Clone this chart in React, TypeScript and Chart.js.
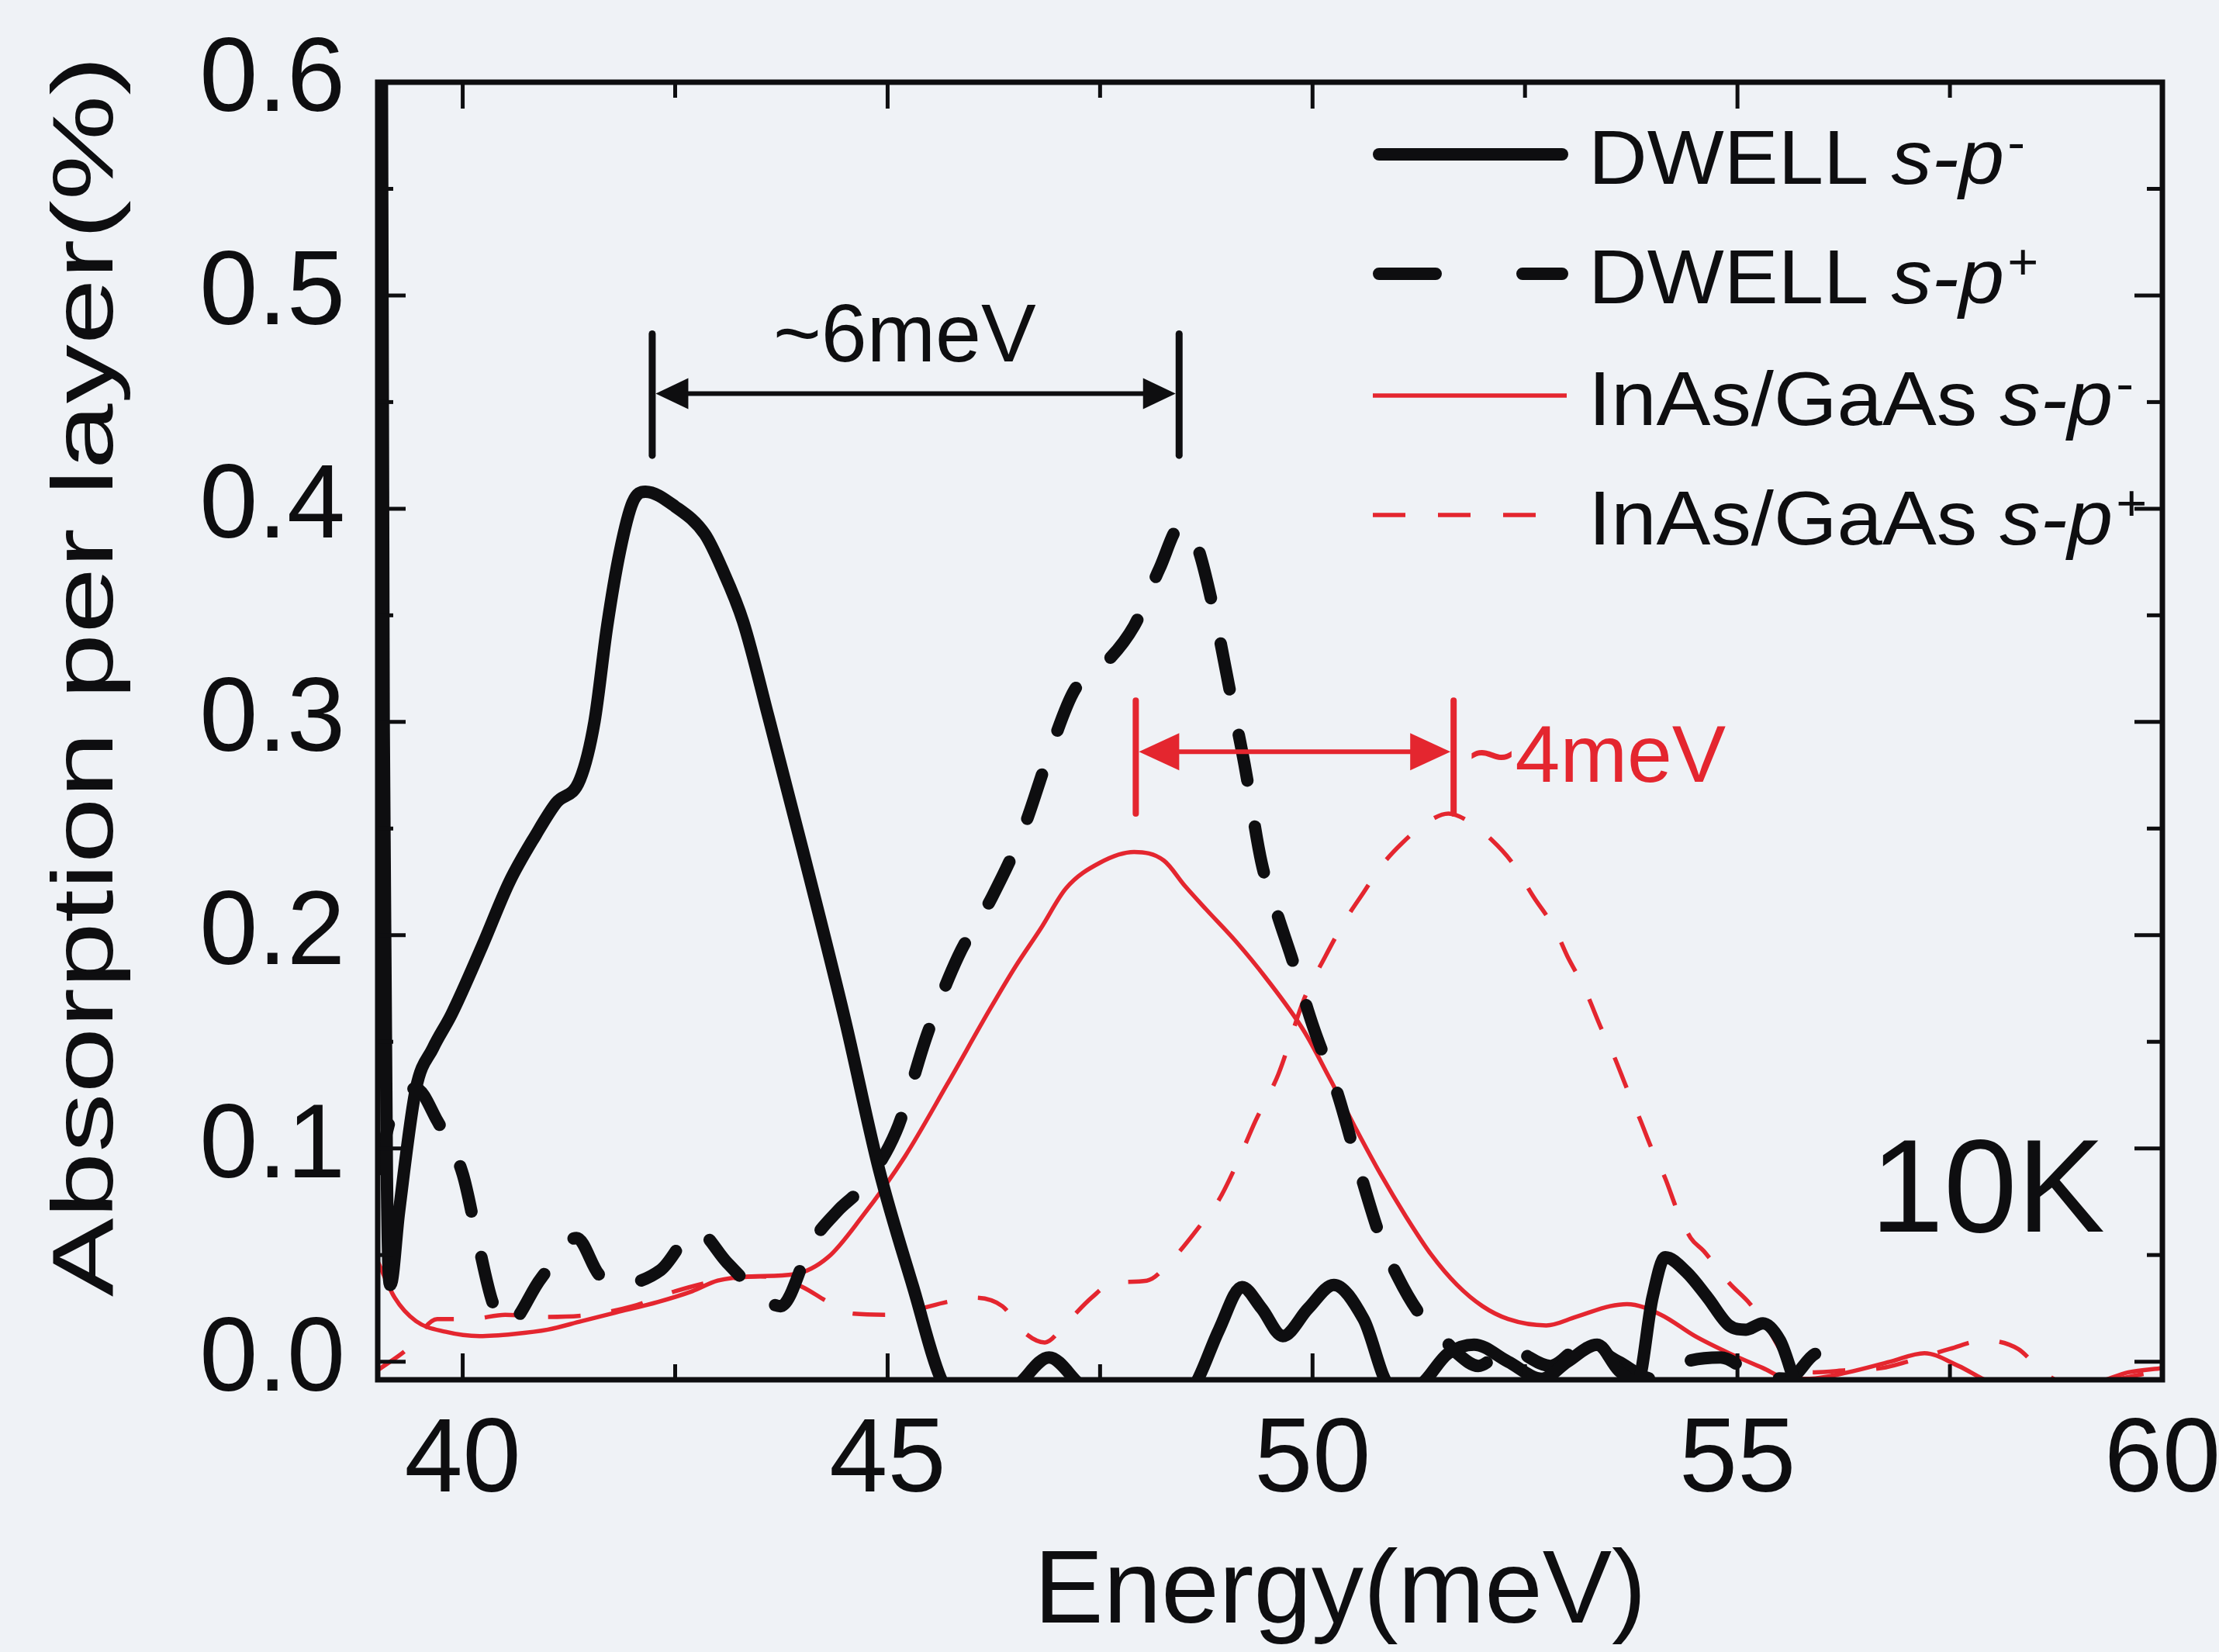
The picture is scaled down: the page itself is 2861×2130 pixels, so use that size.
import React, { useEffect, useRef } from 'react';
import { Chart, registerables } from 'chart.js';

Chart.register(...registerables);

// ---------------- data ----------------
const dwellMinusX = [39.04, 39.07, 39.11, 39.15, 39.25, 39.45, 39.65, 39.87, 40.23, 40.55, 40.86, 41.1, 41.38, 41.55, 41.7, 41.85, 42.0, 42.15, 42.5, 42.85, 43.05, 43.3, 43.6, 44.0, 44.5, 44.9, 45.3, 45.65, 46.0, 46.5, 46.9, 47.3, 47.8, 48.3, 48.6, 48.9, 49.17, 49.4, 49.65, 49.95, 50.25, 50.6, 50.93, 51.2, 51.6, 51.9, 52.3, 52.7, 53.0, 53.35, 53.6, 53.82, 54.0, 54.15, 54.4, 54.65, 54.9, 55.1, 55.3, 55.5, 55.75, 56.2, 60.0];
const dwellMinusY = [0.75, 0.3, 0.08, 0.036, 0.07, 0.128, 0.147, 0.163, 0.195, 0.225, 0.247, 0.262, 0.273, 0.3, 0.345, 0.38, 0.403, 0.408, 0.401, 0.388, 0.372, 0.347, 0.302, 0.24, 0.16, 0.09, 0.035, -0.01, -0.02, -0.012, 0.002, -0.012, -0.02, -0.02, -0.012, 0.015, 0.035, 0.025, 0.012, 0.025, 0.036, 0.02, -0.012, -0.012, 0.004, 0.008, 0.0, -0.008, 0.0, 0.008, -0.004, -0.01, 0.03, 0.049, 0.042, 0.03, 0.017, 0.015, 0.018, 0.01, -0.015, -0.02, -0.02];

const dwellPlusX = [39.0, 39.2, 39.45, 39.7, 40.0, 40.17, 40.35, 40.52, 40.92, 41.34, 41.6, 41.8, 42.33, 42.75, 43.11, 43.53, 43.74, 44.11, 44.42, 44.68, 45.1, 45.47, 45.83, 46.23, 46.6, 46.9, 47.2, 47.5, 47.9, 48.2, 48.45, 48.62, 48.85, 49.05, 49.2, 49.4, 49.6, 49.75, 50.0, 50.3, 50.55, 50.8, 51.0, 51.25, 51.45, 51.7, 51.95, 52.3, 52.8, 53.2, 53.6, 54.0, 54.4, 54.8, 55.2, 55.6, 55.95, 56.3, 60.0];
const dwellPlusY = [0.09, 0.12, 0.128, 0.113, 0.088, 0.058, 0.028, 0.017, 0.039, 0.058, 0.041, 0.036, 0.043, 0.0615, 0.0465, 0.03, 0.026, 0.056, 0.071, 0.081, 0.108, 0.154, 0.19, 0.218, 0.25, 0.285, 0.315, 0.325, 0.345, 0.372, 0.392, 0.385, 0.35, 0.31, 0.28, 0.234, 0.208, 0.19, 0.158, 0.125, 0.09, 0.058, 0.04, 0.023, 0.015, 0.004, -0.002, 0.006, -0.002, 0.008, 0.0, -0.008, 0.0, 0.002, -0.006, -0.008, 0.004, -0.015, -0.02];

const inasMinusX = [39.0, 39.2, 39.45, 39.8, 40.2, 40.6, 41.0, 41.4, 41.8, 42.3, 42.7, 43.0, 43.4, 43.9, 44.3, 44.7, 45.2, 45.7, 46.2, 46.5, 46.8, 47.1, 47.5, 47.9, 48.25, 48.5, 48.75, 49.1, 49.45, 49.9, 50.2, 50.5, 50.8, 51.1, 51.4, 51.7, 52.0, 52.3, 52.75, 53.1, 53.5, 53.7, 54.1, 54.5, 54.9, 55.3, 55.6, 55.85, 56.3, 56.8, 57.2, 57.6, 58.0, 58.5, 59.2, 59.6, 60.0];
const inasMinusY = [0.047, 0.03, 0.019, 0.014, 0.012, 0.013, 0.015, 0.019, 0.023, 0.028, 0.033, 0.038, 0.04, 0.041, 0.049, 0.068, 0.096, 0.13, 0.165, 0.185, 0.203, 0.222, 0.234, 0.239, 0.235, 0.223, 0.212, 0.197, 0.18, 0.155, 0.133, 0.11, 0.088, 0.068, 0.05, 0.036, 0.026, 0.02, 0.017, 0.021, 0.026, 0.027, 0.022, 0.012, 0.004, -0.003, -0.008, -0.008, -0.005, 0.0, 0.004, -0.002, -0.01, -0.012, -0.01, -0.005, -0.003];

const inasPlusX = [39.0, 39.35, 39.7, 40.1, 40.5, 41.0, 41.5, 42.0, 42.5, 43.0, 43.5, 43.8, 44.0, 44.3, 44.6, 45.0, 45.3, 45.7, 46.0, 46.35, 46.6, 46.85, 47.1, 47.4, 47.65, 48.05, 48.35, 48.7, 48.9, 49.1, 49.33, 49.6, 49.9, 50.15, 50.4, 50.6, 50.8, 51.05, 51.35, 51.6, 51.85, 52.1, 52.35, 52.6, 52.85, 53.0, 53.2, 53.4, 53.55, 53.7, 53.85, 54.0, 54.15, 54.3, 54.45, 54.6, 54.9, 55.15, 55.35, 55.6, 55.9, 56.3, 56.7, 57.0, 57.5, 57.9, 58.3, 58.6, 59.0, 59.5, 60.0];
const inasPlusY = [-0.004, 0.006, 0.02, 0.02, 0.022, 0.021, 0.022, 0.026, 0.033, 0.038, 0.04, 0.038, 0.035, 0.028, 0.0225, 0.022, 0.024, 0.028, 0.03, 0.026, 0.014, 0.009, 0.018, 0.03, 0.037, 0.038, 0.048, 0.065, 0.076, 0.092, 0.113, 0.135, 0.17, 0.19, 0.208, 0.22, 0.232, 0.243, 0.253, 0.257, 0.253, 0.245, 0.234, 0.218, 0.203, 0.19, 0.175, 0.156, 0.143, 0.128, 0.114, 0.099, 0.086, 0.07, 0.058, 0.052, 0.037, 0.027, 0.016, 0.0, -0.005, -0.004, -0.003, 0.0, 0.006, 0.01, 0.006, -0.005, -0.012, -0.008, -0.004];

const seriesNames = ['DWELL', 'DWELL', 'InAs/GaAs', 'InAs/GaAs'];
const seriesSup = ['-', '+', '-', '+'];
const xTickValues = [40, 45, 50, 55, 60];
const xMinorValues = [40, 42.5, 45, 47.5, 50, 52.5, 55, 57.5];
const yTickValues = [0, 0.1, 0.2, 0.3, 0.4, 0.5, 0.6];
const yMinorValues = [0, 0.05, 0.1, 0.15, 0.2, 0.25, 0.3, 0.35, 0.4, 0.45, 0.5, 0.55];
const xTitle = 'Energy(meV)';
const yTitle = 'Absorption per layer(%)';
const tempLabel = '10K';
// annotation values (data space)
const gap6 = { from: 42.23, to: 48.43, y: 0.454, barTop: 0.482, barBottom: 0.425, label: '~6meV', labelX: 45.2, labelY: 0.469 };
const gap4 = { from: 47.92, to: 51.66, y: 0.286, barTop: 0.31, barBottom: 0.257, label: '~4meV', labelX: 51.83, labelY: 0.272 };

// ---------------- style ----------------
const W = 2861;
const H = 2130;
const BG = '#eff2f6';
const INK = '#0e0e10';
const RED = '#e4262f';
const FONT = '"Liberation Sans", Arial, Helvetica, sans-serif';

const pts = (xs: number[], ys: number[]) => xs.map((x, i) => ({ x, y: ys[i] }));

function line(ctx: CanvasRenderingContext2D, x1: number, y1: number, x2: number, y2: number) {
  ctx.beginPath();
  ctx.moveTo(x1, y1);
  ctx.lineTo(x2, y2);
  ctx.stroke();
}

function drawGap(ctx: CanvasRenderingContext2D, xs: any, ys: any, g: any, color: string, lw: number, bw: number, hl: number, hw: number, font: string, centered: boolean) {
  const x1 = xs.getPixelForValue(g.from);
  const x2 = xs.getPixelForValue(g.to);
  const y = ys.getPixelForValue(g.y);
  ctx.save();
  ctx.strokeStyle = color;
  ctx.fillStyle = color;
  ctx.lineCap = 'round';
  ctx.lineWidth = bw;
  line(ctx, x1, ys.getPixelForValue(g.barTop), x1, ys.getPixelForValue(g.barBottom));
  line(ctx, x2, ys.getPixelForValue(g.barTop), x2, ys.getPixelForValue(g.barBottom));
  ctx.lineCap = 'butt';
  ctx.lineWidth = lw;
  line(ctx, x1 + bw / 2 + hl * 0.6, y, x2 - bw / 2 - hl * 0.6, y);
  const t1 = x1 + bw / 2;
  const t2 = x2 - bw / 2;
  ctx.beginPath();
  ctx.moveTo(t1, y);
  ctx.lineTo(t1 + hl, y - hw / 2);
  ctx.lineTo(t1 + hl, y + hw / 2);
  ctx.closePath();
  ctx.fill();
  ctx.beginPath();
  ctx.moveTo(t2, y);
  ctx.lineTo(t2 - hl, y - hw / 2);
  ctx.lineTo(t2 - hl, y + hw / 2);
  ctx.closePath();
  ctx.fill();
  ctx.font = font;
  ctx.textBaseline = 'alphabetic';
  ctx.textAlign = centered ? 'center' : 'left';
  ctx.fillText(g.label, xs.getPixelForValue(g.labelX), ys.getPixelForValue(g.labelY));
  ctx.restore();
}

const backgroundPlugin = {
  id: 'bgfill',
  beforeDraw(chart: any) {
    const ctx = chart.ctx;
    ctx.save();
    ctx.fillStyle = BG;
    ctx.fillRect(0, 0, chart.width, chart.height);
    ctx.restore();
  },
};

const legendRows = [199, 353, 510, 664];

const overlayPlugin = {
  id: 'overlay',
  afterDatasetsDraw(chart: any) {
    const { ctx, chartArea: a, scales } = chart;
    const xs = scales.x;
    const ys = scales.y;
    ctx.save();
    // frame
    ctx.strokeStyle = INK;
    ctx.lineWidth = 7;
    ctx.strokeRect(a.left, a.top, a.right - a.left, a.bottom - a.top);
    // inner ticks
    ctx.lineWidth = 5;
    for (const v of xMinorValues) {
      const len = xTickValues.includes(v) ? 34 : 20;
      const px = xs.getPixelForValue(v);
      line(ctx, px, a.bottom, px, a.bottom - len);
      line(ctx, px, a.top, px, a.top + len);
    }
    for (const v of yMinorValues) {
      const major = Math.abs(v * 10 - Math.round(v * 10)) < 1e-6;
      const len = major ? 36 : 20;
      const py = ys.getPixelForValue(v);
      line(ctx, a.left, py, a.left + len, py);
      line(ctx, a.right, py, a.right - len, py);
    }
    // axis titles
    ctx.fillStyle = INK;
    ctx.textAlign = 'center';
    ctx.font = `134px ${FONT}`;
    ctx.textBaseline = 'alphabetic';
    ctx.fillText(xTitle, 1728, 2092);
    ctx.save();
    ctx.translate(114, 872);
    ctx.rotate(-Math.PI / 2);
    ctx.scale(1.36, 1);
    ctx.font = `112px ${FONT}`;
    ctx.textBaseline = 'middle';
    ctx.fillText(yTitle, 0, 0);
    ctx.restore();
    // 10K
    ctx.font = `170px ${FONT}`;
    ctx.textAlign = 'right';
    ctx.fillText(tempLabel, 2714, 1588);
    // annotations
    drawGap(ctx, xs, ys, gap6, INK, 6, 9, 42, 40, `106px ${FONT}`, true);
    drawGap(ctx, xs, ys, gap4, RED, 6, 8, 52, 48, `104px ${FONT}`, false);
    // legend
    const styles = [
      { color: INK, w: 16, dash: [] as number[], cap: 'round', x0: 1778, x1: 2014 },
      { color: INK, w: 16, dash: [73, 112], cap: 'round', x0: 1778, x1: 2014 },
      { color: RED, w: 5.5, dash: [] as number[], cap: 'butt', x0: 1770, x1: 2020 },
      { color: RED, w: 5.5, dash: [42, 42], cap: 'butt', x0: 1770, x1: 2020 },
    ];
    for (let i = 0; i < 4; i++) {
      const y = legendRows[i];
      const s = styles[i];
      ctx.save();
      ctx.strokeStyle = s.color;
      ctx.lineWidth = s.w;
      ctx.lineCap = s.cap as CanvasLineCap;
      ctx.setLineDash(s.dash);
      line(ctx, s.x0, y, s.x1, y);
      ctx.restore();
      ctx.save();
      ctx.translate(2048, y + 38);
      ctx.scale(1.07, 1);
      ctx.fillStyle = INK;
      ctx.textAlign = 'left';
      ctx.textBaseline = 'alphabetic';
      ctx.font = `98px ${FONT}`;
      const name = seriesNames[i] + ' ';
      ctx.fillText(name, 0, 0);
      let xo = ctx.measureText(name).width;
      ctx.font = `italic 98px ${FONT}`;
      ctx.fillText('s-p', xo, 0);
      xo += ctx.measureText('s-p').width + 4;
      ctx.font = `64px ${FONT}`;
      ctx.fillText(seriesSup[i], xo, -31);
      ctx.restore();
    }
    ctx.restore();
  },
};

export default function App() {
  const ref = useRef<HTMLCanvasElement>(null);
  useEffect(() => {
    const canvas = ref.current;
    if (!canvas) return;
    const common = { pointRadius: 0, cubicInterpolationMode: 'monotone' as const, clip: 0, borderJoinStyle: 'round' as const };
    const chart = new Chart(canvas, {
      type: 'line',
      data: {
        datasets: [
          { ...common, label: 'DWELL s-p-', data: pts(dwellMinusX, dwellMinusY), borderColor: INK, borderWidth: 16, borderCapStyle: 'round' },
          { ...common, label: 'DWELL s-p+', data: pts(dwellPlusX, dwellPlusY), borderColor: INK, borderWidth: 16, borderDash: [60, 60], borderCapStyle: 'round' },
          { ...common, label: 'InAs/GaAs s-p-', data: pts(inasMinusX, inasMinusY), borderColor: RED, borderWidth: 5.5 },
          { ...common, label: 'InAs/GaAs s-p+', data: pts(inasPlusX, inasPlusY), borderColor: RED, borderWidth: 5.5, borderDash: [42, 40] },
        ] as any,
      },
      options: {
        responsive: false,
        devicePixelRatio: 1,
        animation: false,
        events: [],
        layout: { padding: { left: 0, right: 73, top: 106, bottom: 0 } },
        plugins: { legend: { display: false }, tooltip: { enabled: false }, title: { display: false } },
        scales: {
          x: {
            type: 'linear',
            min: 39,
            max: 60,
            grid: { display: false, drawTicks: false },
            border: { display: false },
            afterBuildTicks: (s: any) => { s.ticks = xTickValues.map((v) => ({ value: v })); },
            afterFit: (s: any) => { s.height = 351; s.paddingLeft = 0; s.paddingRight = 0; },
            ticks: { color: INK, font: { family: FONT, size: 135 }, padding: 26, maxRotation: 0, autoSkip: false, callback: (v: any) => String(v) },
          },
          y: {
            type: 'linear',
            min: -0.0085,
            max: 0.6,
            grid: { display: false, drawTicks: false },
            border: { display: false },
            afterBuildTicks: (s: any) => { s.ticks = yTickValues.map((v) => ({ value: v })); },
            afterFit: (s: any) => { s.width = 487; s.paddingTop = 0; s.paddingBottom = 0; },
            ticks: { color: INK, font: { family: FONT, size: 135 }, padding: 42, autoSkip: false, callback: (v: any) => Number(v).toFixed(1) },
          },
        },
      } as any,
      plugins: [backgroundPlugin, overlayPlugin],
    });
    return () => chart.destroy();
  }, []);
  return (
    <div style={{ position: 'fixed', left: 0, top: 0, width: W, height: H, background: BG }}>
      <canvas ref={ref} width={W} height={H} style={{ display: 'block', width: W, height: H }} />
    </div>
  );
}
